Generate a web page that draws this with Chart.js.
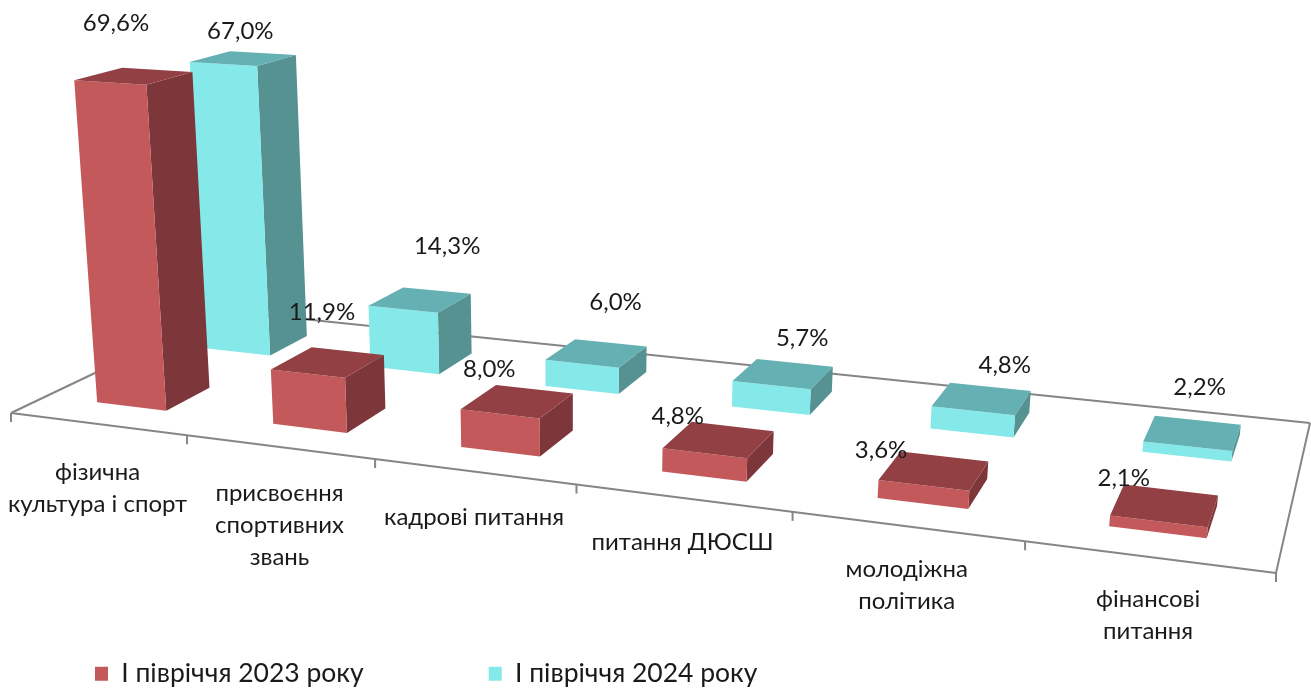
<!DOCTYPE html>
<html lang="uk">
<head>
<meta charset="utf-8">
<title>Звернення</title>
<script src="https://cdn.jsdelivr.net/npm/chart.js@4/dist/chart.umd.min.js"></script>
<style>
    html, body { margin: 0; padding: 0; background: #fff; }
    canvas { display: block; }
</style>
</head>
<body>
<canvas id="chart" width="1311" height="690"></canvas>
<script>
// Chart data
const categories = [
    ["фізична", "культура і спорт"],
    ["присвоєння", "спортивних", "звань"],
    ["кадрові питання"],
    ["питання ДЮСШ"],
    ["молодіжна", "політика"],
    ["фінансові", "питання"]
];
const seriesNames = ["І півріччя 2023 року", "І півріччя 2024 року"];
const values2023 = [69.6, 11.9, 8.0, 4.8, 3.6, 2.1];
const values2024 = [67.0, 14.3, 6.0, 5.7, 4.8, 2.2];
const axisMax = 80;

// Hand-moved data labels: offset from the centre of the bar's top
const labelOffsets2023 = [[-18, -53], [-6, -50], [-28, -32], [-41, -23], [-53, -20], [-41, -27]];
const labelOffsets2024 = [[-3, -27], [27, -54], [19, -51], [19, -36], [23, -33], [7, -46]];

// Colours per series: front, side, top
const faceColors = [
    { front: "#C4595C", side: "#7D3639", top: "#924044" },
    { front: "#85E9E9", side: "#569292", top: "#64B0B2" }
];
const font = "Lato, 'Noto Sans', sans-serif";
const fontSize = 24;
const legendFontSize = 26.5;

// Floor corners on screen, used to build the perspective
const floorFrontLeft = [11, 413];
const floorFrontRight = [1276, 573];
const floorBackRight = [1310, 423];
const floorBackLeft = [225, 311];
const rowDepth = [[0.145, 0.345], [0.65, 0.85]];  // series rows, 0 = front edge of the floor
const vanishX = 568, vanishY = 7020;  // where the verticals meet
const heightScale = -0.000677;        // perspective change per value unit

// Square to quad homography for the floor
function buildFloor() {
    const [x0, y0] = floorFrontLeft, [x1, y1] = floorFrontRight;
    const [x2, y2] = floorBackRight, [x3, y3] = floorBackLeft;
    const sx = x0 - x1 + x2 - x3, sy = y0 - y1 + y2 - y3;
    const dx1 = x1 - x2, dy1 = y1 - y2, dx2 = x3 - x2, dy2 = y3 - y2;
    const det = dx1 * dy2 - dx2 * dy1;
    const g = (sx * dy2 - dx2 * sy) / det;
    const h = (dx1 * sy - sx * dy1) / det;
    return {
        a: x1 - x0 + g * x1, b: x3 - x0 + h * x3, c: x0,
        d: y1 - y0 + g * y1, e: y3 - y0 + h * y3, f: y0,
        g, h
    };
}
const floor = buildFloor();

// s: 0..1 along the category axis, t: 0..1 in depth, v: value
function project(s, t, v) {
    const w = floor.g * s + floor.h * t + 1 + heightScale * v;
    return [
        (floor.a * s + floor.b * t + floor.c + vanishX * heightScale * v) / w,
        (floor.d * s + floor.e * t + floor.f + vanishY * heightScale * v) / w
    ];
}

function fillFace(ctx, color, points) {
    ctx.fillStyle = color;
    ctx.beginPath();
    points.forEach((p, i) => i ? ctx.lineTo(p[0], p[1]) : ctx.moveTo(p[0], p[1]));
    ctx.closePath();
    ctx.fill();
}

function strokeLine(ctx, from, to) {
    ctx.beginPath();
    ctx.moveTo(from[0], from[1]);
    ctx.lineTo(to[0], to[1]);
    ctx.stroke();
}

// Floor outline, ticks and category labels
function drawFloor(chart) {
    const ctx = chart.ctx, xScale = chart.scales.x;
    const step = xScale.width / categories.length;
    ctx.strokeStyle = "#868686";
    ctx.lineWidth = 2;
    strokeLine(ctx, project(0, 0, 0), project(1, 0, 0));
    strokeLine(ctx, project(1, 0, 0), project(1, 1, 0));
    strokeLine(ctx, project(1, 1, 0), project(0, 1, 0));
    strokeLine(ctx, project(0, 1, 0), project(0, 0, 0));

    for (let i = 0; i <= categories.length; i++) {
        const p = project(i * step / xScale.width, 0, 0);
        strokeLine(ctx, p, [p[0], p[1] + 9]);
    }

    ctx.fillStyle = "#1a1a1a";
    ctx.font = fontSize + "px " + font;
    ctx.textAlign = "center";
    ctx.textBaseline = "middle";
    categories.forEach((lines, i) => {
        const s = (xScale.getPixelForValue(i) - xScale.left) / xScale.width;
        const p = project(s, 0, 0);
        lines.forEach((line, n) => ctx.fillText(line, p[0], p[1] + 48 - i * 1.2 + n * 32));
    });
}

function drawBars(chart) {
    const ctx = chart.ctx, xScale = chart.scales.x, yScale = chart.scales.y;
    // back row first so the front row covers it
    for (let d = chart.data.datasets.length - 1; d >= 0; d--) {
        const [t0, t1] = rowDepth[d];
        const colors = faceColors[d];
        chart.getDatasetMeta(d).data.forEach(bar => {
            const s0 = (bar.x - bar.width / 2 - xScale.left) / xScale.width;
            const s1 = (bar.x + bar.width / 2 - xScale.left) / xScale.width;
            const v = (bar.base - bar.y) / yScale.height * axisMax;
            fillFace(ctx, colors.side, [project(s1, t0, 0), project(s1, t1, 0), project(s1, t1, v), project(s1, t0, v)]);
            fillFace(ctx, colors.front, [project(s0, t0, 0), project(s1, t0, 0), project(s1, t0, v), project(s0, t0, v)]);
            fillFace(ctx, colors.top, [project(s0, t0, v), project(s1, t0, v), project(s1, t1, v), project(s0, t1, v)]);
        });
    }
}

function drawValueLabels(chart) {
    const ctx = chart.ctx, xScale = chart.scales.x, yScale = chart.scales.y;
    const offsets = [labelOffsets2023, labelOffsets2024];
    ctx.fillStyle = "#1a1a1a";
    ctx.font = fontSize + "px " + font;
    ctx.textAlign = "center";
    ctx.textBaseline = "middle";
    chart.data.datasets.forEach((dataset, d) => {
        const t = (rowDepth[d][0] + rowDepth[d][1]) / 2;
        chart.getDatasetMeta(d).data.forEach((bar, i) => {
            const s = (bar.x - xScale.left) / xScale.width;
            const v = (bar.base - bar.y) / yScale.height * axisMax;
            const p = project(s, t, v);
            const text = dataset.data[i].toFixed(1).replace(".", ",") + "%";
            ctx.fillText(text, p[0] + offsets[d][i][0], p[1] + offsets[d][i][1]);
        });
    });
}

const bars3d = {
    id: "bars3d",
    afterLayout(chart) {
        // legend starts near the left edge and sits low, not centred
        chart.legend.left = 95 - chart.options.plugins.legend.labels.padding;
        chart.legend.top += 7;
    },
    beforeDatasetsDraw(chart) {
        drawFloor(chart);
        drawBars(chart);
        drawValueLabels(chart);
        return false;  // the flat bars are not drawn
    }
};

new Chart(document.getElementById("chart"), {
    type: "bar",
    data: {
        labels: categories,
        datasets: [
            { label: seriesNames[0], data: values2023, backgroundColor: faceColors[0].front, borderWidth: 0 },
            { label: seriesNames[1], data: values2024, backgroundColor: faceColors[1].front, borderWidth: 0 }
        ]
    },
    options: {
        responsive: false,
        animation: false,
        grouped: false,
        barPercentage: 0.4,
        categoryPercentage: 1,
        layout: { padding: { bottom: 0 } },
        scales: {
            x: { display: false },
            y: { display: false, min: 0, max: axisMax }
        },
        plugins: {
            tooltip: { enabled: false },
            legend: {
                position: "bottom",
                align: "start",
                labels: {
                    boxWidth: 13,
                    boxHeight: 14,
                    padding: 125,
                    color: "#1a1a1a",
                    font: { family: font, size: legendFontSize }
                }
            }
        }
    },
    plugins: [bars3d]
});
</script>
</body>
</html>
